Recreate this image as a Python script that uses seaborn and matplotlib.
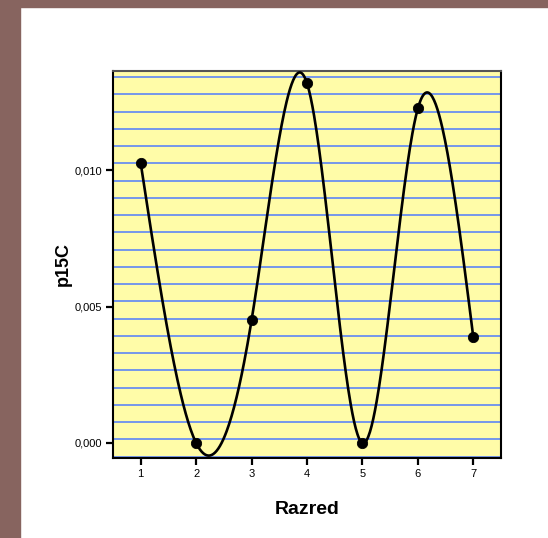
import matplotlib
matplotlib.use("Agg")
import matplotlib.pyplot as plt
import matplotlib.ticker as mticker
import seaborn as sns
import numpy as np
import pandas as pd

# data
RAZRED = [1, 2, 3, 4, 5, 6, 7]
P15C = [0.01025, 0.0, 0.0045, 0.01318, 0.0, 0.01226, 0.00388]
Y_TICKS = [0.0, 0.005, 0.010]


def natural_spline(x, y, n=400):
    """Natural cubic spline through the points, like the SPSS spline line."""
    x = np.asarray(x, float)
    y = np.asarray(y, float)
    k = len(x)
    h = np.diff(x)
    A = np.zeros((k, k))
    b = np.zeros(k)
    A[0, 0] = A[-1, -1] = 1
    for i in range(1, k - 1):
        A[i, i - 1] = h[i - 1]
        A[i, i] = 2 * (h[i - 1] + h[i])
        A[i, i + 1] = h[i]
        b[i] = 6 * ((y[i + 1] - y[i]) / h[i] - (y[i] - y[i - 1]) / h[i - 1])
    m = np.linalg.solve(A, b)
    xs = np.linspace(x[0], x[-1], n)
    idx = np.clip(np.searchsorted(x, xs) - 1, 0, k - 2)
    x0, x1 = x[idx], x[idx + 1]
    hh = x1 - x0
    t0, t1 = x1 - xs, xs - x0
    ys = (m[idx] * t0**3 / (6 * hh) + m[idx + 1] * t1**3 / (6 * hh)
          + (y[idx] / hh - m[idx] * hh / 6) * t0
          + (y[idx + 1] / hh - m[idx + 1] * hh / 6) * t1)
    return xs, ys


df = pd.DataFrame({"Razred": RAZRED, "p15C": P15C})
xs, ys = natural_spline(RAZRED, P15C)
curve = pd.DataFrame({"Razred": xs, "p15C": ys})

sns.set_style("white", {"text.color": "black", "axes.labelcolor": "black",
                        "xtick.color": "black", "ytick.color": "black"})
plt.rcParams["font.family"] = ["Liberation Sans", "DejaVu Sans"]

fig = plt.figure(figsize=(5.48, 5.38), dpi=100)
fig.patch.set_facecolor("white")
# brown frame on the left and top
fig.patches.append(plt.Rectangle((0, 0), 20 / 548, 1, transform=fig.transFigure,
                                 color="#87645f", zorder=0))
fig.patches.append(plt.Rectangle((0, 1 - 7 / 538), 1, 7 / 538, transform=fig.transFigure,
                                 color="#87645f", zorder=0))

ax = fig.add_axes([113 / 548, 1 - 458 / 538, 388 / 548, 387 / 538])
ax.set_facecolor("#fffca8")

# background stripes
for f in np.linspace(0.0034, 0.984, 23):
    ax.plot([0, 1], [f, f], color="#6a8ff0", lw=1.3, zorder=1, transform=ax.transAxes)

sns.lineplot(data=curve, x="Razred", y="p15C", ax=ax, color="black", lw=1.9,
             sort=False, estimator=None, zorder=3)
sns.scatterplot(data=df, x="Razred", y="p15C", ax=ax, color="black", s=55,
                edgecolor="black", zorder=4)

ax.set_xlim(0.5, 7.5)
ax.set_ylim(-0.00055, 0.01363)
ax.set_xticks(RAZRED)
ax.set_yticks(Y_TICKS)
ax.yaxis.set_major_formatter(mticker.FuncFormatter(lambda v, p: f"{v:.3f}".replace(".", ",")))
ax.tick_params(axis="both", direction="out", length=5, width=1.6, color="black",
               labelcolor="black", labelsize=8, pad=3, left=True, bottom=True)

for name, sp in ax.spines.items():
    sp.set_visible(True)
    sp.set_linewidth(1.5)
    sp.set_color("black")
ax.spines["top"].set_color("#555555")

ax.set_xlabel("Razred", fontsize=14, fontweight="bold", labelpad=16, color="black")
ax.set_ylabel("p15C", fontsize=13, fontweight="bold", labelpad=2, color="black")

fig.savefig("out.png", dpi=100)
